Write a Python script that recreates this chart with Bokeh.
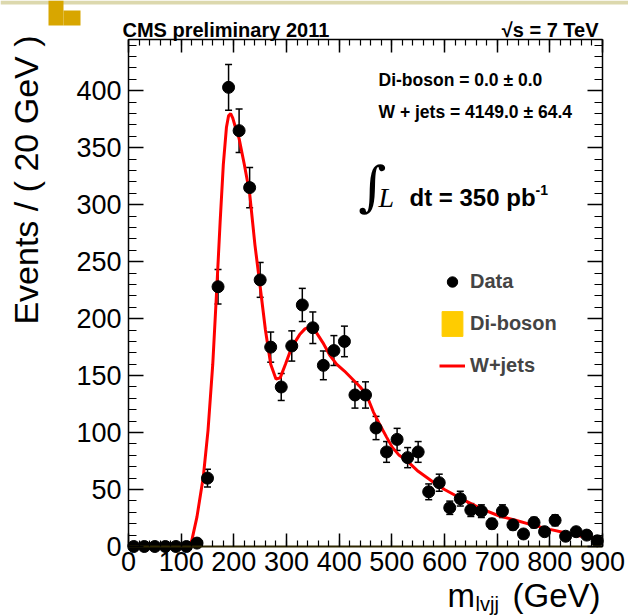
import numpy as np
from bokeh.plotting import figure
from bokeh.models import (LinearAxis, FixedTicker, Label, Whisker, ColumnDataSource,
                          Legend, LegendItem, TeeHead, Range1d, BoxAnnotation)
from bokeh.embed import file_html
from bokeh.resources import INLINE

# ---------------- data ----------------
bin_centers = [10, 30, 50, 70, 90, 110, 130, 150, 170, 190, 210, 230, 250, 270, 290,
               310, 330, 350, 370, 390, 410, 430, 450, 470, 490, 510, 530, 550, 570, 590,
               610, 630, 650, 670, 690, 710, 730, 750, 770, 790, 810, 830, 850, 870, 890]
data_counts = [0, 0, 0, 0, 0, 0, 3, 60, 228, 403, 365, 315, 234, 175, 140,
               176, 212, 192, 159, 172, 180, 133, 133, 104, 83, 94, 78, 83, 48, 56,
               34, 42, 32, 31, 20, 31, 19, 11, 21, 13, 23, 9, 13, 10, 5]
diboson = [0, 0, 0, 0, 0, 0, 0, 0, 0, 0, 0, 0, 0, 0, 0,
           0, 0, 0, 0, 0, 0, 0, 0, 0, 0, 0, 0, 0, 0, 0,
           0, 0, 0, 0, 0, 0, 0, 0, 0, 0, 0, 0, 0, 0, 0]
bin_width = 20

fit_x = [113, 120, 130, 142, 151, 160, 168, 174, 180, 186, 190, 194, 198, 203, 210,
         220, 230, 240, 250, 260, 270, 280, 288, 298, 310, 325, 335, 345, 355, 369,
         382, 395, 410, 425, 440, 452, 465, 476, 490, 501, 514, 527, 550, 577, 600,
         620, 640, 670, 703, 735, 766, 800, 829, 860, 887, 900]
fit_y = [0, 5, 26, 61, 102, 160, 230, 285, 335, 368, 378, 380, 376, 368, 358,
         335, 310, 265, 228, 190, 160, 147, 148, 160, 175, 186, 191, 193, 189, 179,
         168, 160, 154, 147, 140, 133, 118, 108, 96, 87, 80, 76, 66, 57, 50,
         45, 40, 33, 27, 23, 19, 15, 12, 9, 7, 6]

x_major = [0, 100, 200, 300, 400, 500, 600, 700, 800, 900]
y_major = [0, 50, 100, 150, 200, 250, 300, 350, 400]
X_MAX, Y_MAX = 900, 445

# ---------------- figure: the frame fills the canvas; axes are pinned ----------------
W, H = 628, 616
FL, FR, FT, FB = 128, 602, 39, 546          # axes box in pixels
kx = (FR - FL) / X_MAX
ky = (FB - FT) / Y_MAX
p = figure(width=W, height=H,
           x_range=Range1d(-FL / kx, (W - FL) / kx),
           y_range=Range1d(-(H - FB) / ky, FB / ky),
           x_axis_location=None, y_axis_location=None,
           output_backend="svg", toolbar_location=None, min_border=0)
p.grid.grid_line_color = None
p.outline_line_color = None
p.background_fill_color = "white"
p.border_fill_color = "white"

FONT = "Liberation Sans"
x_minor = list(np.arange(0, X_MAX + 1, 20))
y_minor = list(np.arange(0, Y_MAX, 10))
xt = FixedTicker(ticks=x_major, minor_ticks=x_minor)
yt = FixedTicker(ticks=y_major, minor_ticks=y_minor)

def make_axis(ticker, loc, bounds, labels, major, minor):
    ax = LinearAxis(ticker=ticker, fixed_location=loc, bounds=bounds)
    ax.major_tick_in = major
    ax.major_tick_out = 0
    ax.minor_tick_in = minor
    ax.minor_tick_out = 0
    ax.major_tick_line_color = "black"
    ax.minor_tick_line_color = "black"
    ax.major_tick_line_width = 1.5
    ax.minor_tick_line_width = 1.2
    ax.axis_line_color = "black"
    ax.axis_line_width = 1.5
    ax.major_label_text_font = FONT
    ax.major_label_text_font_size = "27px"
    ax.major_label_text_color = "black"
    if not labels:
        ax.major_label_text_font_size = "0px"
        ax.major_label_text_color = None
    return ax

bottom = make_axis(xt, 0, (0, X_MAX), True, 13, 6)
bottom.major_label_standoff = 5
bottom.axis_line_color = "#2e2600"
bottom.axis_line_width = 2
p.add_layout(bottom, "below")

top = make_axis(xt, Y_MAX, (0, X_MAX), False, 13, 6)
p.add_layout(top, "above")

left = make_axis(yt, 0, (0, Y_MAX), True, 15, 8)
left.major_label_standoff = 7
p.add_layout(left, "left")

right = make_axis(yt, X_MAX, (0, Y_MAX), False, 15, 8)
p.add_layout(right, "right")

# ---------------- glyphs ----------------
centers = np.array(bin_centers, dtype=float)
counts = np.array(data_counts, dtype=float)
errs = np.sqrt(counts)
src = ColumnDataSource(dict(x=centers, y=counts, lower=counts - errs, upper=counts + errs,
                            left=centers - bin_width / 2, right=centers + bin_width / 2,
                            dib=np.array(diboson, dtype=float)))

dib_r = p.quad(left="left", right="right", bottom=0, top="dib", source=src,
               fill_color="#ffcc00", line_color="#ffcc00")
fit_r = p.line(fit_x, fit_y, line_color="#ff0000", line_width=3)

wh = Whisker(source=src, base="x", upper="upper", lower="lower",
             line_color="black", line_width=1.5,
             upper_head=TeeHead(size=7, line_color="black", line_width=1.5),
             lower_head=TeeHead(size=7, line_color="black", line_width=1.5))
p.add_layout(wh)
data_r = p.scatter("x", "y", source=src, size=12, marker="circle",
                   fill_color="black", line_color="black")

# legend (location = bottom-left corner of the legend box, px from the canvas bottom-left)
legend = Legend(items=[LegendItem(label="Data", renderers=[data_r]),
                       LegendItem(label="Di-boson", renderers=[dib_r]),
                       LegendItem(label="W+jets", renderers=[fit_r])],
                location=(439, H - 381), glyph_width=26, glyph_height=31, spacing=11,
                padding=0, margin=0, label_standoff=5,
                label_text_font=FONT, label_text_font_style="bold",
                label_text_font_size="20px",
                border_line_color=None, background_fill_alpha=0)
p.add_layout(legend)

# ---------------- texts (positions in pixels from the top-left of the picture) ----------------
def lab(text, ix, iy, size, style="bold", align="left", font=FONT, angle=0.0):
    p.add_layout(Label(x=ix, y=H - iy, x_units="screen", y_units="screen", text=text,
                       text_font=font, text_font_size=size, text_font_style=style,
                       text_align=align, text_baseline="alphabetic", angle=angle,
                       text_color="black"))

lab("CMS preliminary 2011", 122, 29, "20px")
lab("\u221as = 7 TeV", 598, 29, "20px", align="right")
lab("Di-boson = 0.0 \u00b1 0.0", 378, 79, "17.5px")
lab("W + jets = 4149.0 \u00b1 64.4", 378, 111, "17.5px")
lab("\u222b", 358, 186, "54px", style="normal", font="DejaVu Serif")
lab("L", 378, 197, "28px", style="italic", font="Liberation Serif")
lab("dt = 350 pb", 409, 197, "24px")
lab("-1", 535, 189, "14px")

lab("Events / ( 20 GeV )", 25, 35, "34px", style="normal", align="right", angle=np.pi / 2)
lab("m", 447, 595, "33px", style="normal")
lab("lvjj", 475, 603, "20px", style="normal")
lab("(GeV)", 600, 595, "33px", style="normal", align="right")

# slide-template decoration at the top-left
def box(x0, x1, y0, y1, color):
    p.add_layout(BoxAnnotation(left=x0, right=x1, top=H - y0, bottom=H - y1,
                               left_units="screen", right_units="screen",
                               top_units="screen", bottom_units="screen",
                               fill_color=color, fill_alpha=1, line_color=None,
                               level="underlay"))

box(0, W, 0, 4, "#dcd8ad")
box(48, 63, 0, 25, "#d8a600")
box(63, 80, 10, 25, "#d8a600")

open("out.html", "w").write(file_html(p, INLINE))
